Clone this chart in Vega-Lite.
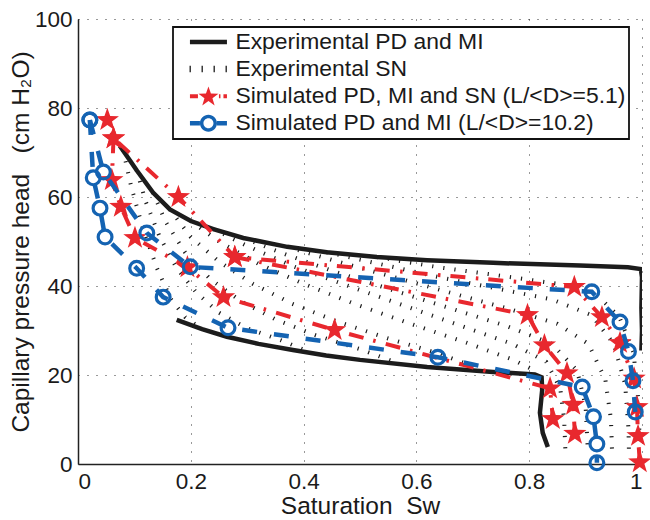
{
  "$schema": "https://vega.github.io/schema/vega-lite/v6.json",
  "autosize": "none",
  "width": 564,
  "height": 445,
  "padding": {"left": 78, "top": 19, "right": 8, "bottom": 56},
  "background": "white",
  "config": {
    "font": "Liberation Sans",
    "view": {"stroke": null},
    "axis": {
      "domainColor": "#222",
      "domainWidth": 1.5,
      "ticks": false,
      "grid": true,
      "gridColor": "#000",
      "gridDash": [1, 8],
      "gridWidth": 1,
      "gridOpacity": 0.8,
      "labelFont": "Liberation Sans",
      "labelFontSize": 22.5,
      "labelColor": "#1a1a1a",
      "titleFont": "Liberation Sans",
      "titleFontSize": 24.5,
      "titleFontWeight": "normal",
      "titleColor": "#1a1a1a"
    }
  },
  "datasets": {
    "exp": [
      {"c": "PD", "x": 0.074, "y": 71.5}, {"c": "PD", "x": 0.09, "y": 68.6}, {"c": "PD", "x": 0.104, "y": 66.0},
      {"c": "PD", "x": 0.133, "y": 61.0}, {"c": "PD", "x": 0.163, "y": 57.2}, {"c": "PD", "x": 0.2, "y": 54.6},
      {"c": "PD", "x": 0.24, "y": 52.8}, {"c": "PD", "x": 0.293, "y": 50.8}, {"c": "PD", "x": 0.371, "y": 48.8},
      {"c": "PD", "x": 0.441, "y": 47.6}, {"c": "PD", "x": 0.53, "y": 46.5}, {"c": "PD", "x": 0.619, "y": 45.8},
      {"c": "PD", "x": 0.736, "y": 45.2}, {"c": "PD", "x": 0.89, "y": 44.6}, {"c": "PD", "x": 0.975, "y": 44.2},
      {"c": "PD", "x": 0.998, "y": 43.8}, {"c": "PD", "x": 1.0, "y": 42.0}, {"c": "PD", "x": 0.999, "y": 35.0},
      {"c": "PD", "x": 1.0, "y": 30.0}, {"c": "PD", "x": 0.999, "y": 25.5},
      {"c": "MI", "x": 0.175, "y": 32.4}, {"c": "MI", "x": 0.22, "y": 30.3}, {"c": "MI", "x": 0.264, "y": 28.6},
      {"c": "MI", "x": 0.32, "y": 27.0}, {"c": "MI", "x": 0.381, "y": 25.6}, {"c": "MI", "x": 0.44, "y": 24.4},
      {"c": "MI", "x": 0.5, "y": 23.4}, {"c": "MI", "x": 0.619, "y": 21.8}, {"c": "MI", "x": 0.736, "y": 20.7},
      {"c": "MI", "x": 0.81, "y": 20.1}, {"c": "MI", "x": 0.822, "y": 19.5}, {"c": "MI", "x": 0.823, "y": 16.6},
      {"c": "MI", "x": 0.819, "y": 11.5}, {"c": "MI", "x": 0.824, "y": 7.0}, {"c": "MI", "x": 0.833, "y": 3.8}
    ],
    "sn": [
      {"c": "K1", "x": 0.08, "y": 70.5}, {"c": "K1", "x": 0.095, "y": 62}, {"c": "K1", "x": 0.115, "y": 53},
      {"c": "K1", "x": 0.14, "y": 44}, {"c": "K1", "x": 0.165, "y": 37}, {"c": "K1", "x": 0.19, "y": 33}, {"c": "K1", "x": 0.22, "y": 30.3},
      {"c": "K2", "x": 0.104, "y": 66}, {"c": "K2", "x": 0.12, "y": 59}, {"c": "K2", "x": 0.145, "y": 51},
      {"c": "K2", "x": 0.175, "y": 44}, {"c": "K2", "x": 0.21, "y": 38.5}, {"c": "K2", "x": 0.25, "y": 34},
      {"c": "K2", "x": 0.3, "y": 30.5}, {"c": "K2", "x": 0.36, "y": 27.8}, {"c": "K2", "x": 0.41, "y": 25.2},
      {"c": "K3", "x": 0.133, "y": 61}, {"c": "K3", "x": 0.155, "y": 54.5}, {"c": "K3", "x": 0.19, "y": 47.5},
      {"c": "K3", "x": 0.235, "y": 41.5}, {"c": "K3", "x": 0.29, "y": 36.5}, {"c": "K3", "x": 0.35, "y": 32.5},
      {"c": "K3", "x": 0.42, "y": 29}, {"c": "K3", "x": 0.5, "y": 25.8}, {"c": "K3", "x": 0.56, "y": 23},
      {"c": "K4", "x": 0.163, "y": 57.2}, {"c": "K4", "x": 0.2, "y": 51}, {"c": "K4", "x": 0.25, "y": 45.5},
      {"c": "K4", "x": 0.31, "y": 40.5}, {"c": "K4", "x": 0.38, "y": 36}, {"c": "K4", "x": 0.46, "y": 32},
      {"c": "K4", "x": 0.55, "y": 28.2}, {"c": "K4", "x": 0.64, "y": 24.8}, {"c": "K4", "x": 0.7, "y": 22},
      {"c": "K5", "x": 0.2, "y": 54.6}, {"c": "K5", "x": 0.25, "y": 50}, {"c": "K5", "x": 0.32, "y": 45},
      {"c": "K5", "x": 0.4, "y": 40.5}, {"c": "K5", "x": 0.49, "y": 36}, {"c": "K5", "x": 0.59, "y": 31.5},
      {"c": "K5", "x": 0.69, "y": 27.2}, {"c": "K5", "x": 0.77, "y": 23.5}, {"c": "K5", "x": 0.81, "y": 21},
      {"c": "K6", "x": 0.24, "y": 52.8}, {"c": "K6", "x": 0.3, "y": 49}, {"c": "K6", "x": 0.38, "y": 44.5},
      {"c": "K6", "x": 0.48, "y": 40}, {"c": "K6", "x": 0.58, "y": 35.5}, {"c": "K6", "x": 0.68, "y": 31},
      {"c": "K6", "x": 0.77, "y": 27}, {"c": "K6", "x": 0.83, "y": 23}, {"c": "K6", "x": 0.855, "y": 17},
      {"c": "K6", "x": 0.862, "y": 10}, {"c": "K6", "x": 0.864, "y": 3.5},
      {"c": "K7", "x": 0.293, "y": 50.8}, {"c": "K7", "x": 0.37, "y": 47}, {"c": "K7", "x": 0.46, "y": 43},
      {"c": "K7", "x": 0.56, "y": 39}, {"c": "K7", "x": 0.66, "y": 35}, {"c": "K7", "x": 0.76, "y": 31},
      {"c": "K7", "x": 0.84, "y": 27}, {"c": "K7", "x": 0.885, "y": 21}, {"c": "K7", "x": 0.9, "y": 13},
      {"c": "K7", "x": 0.904, "y": 3},
      {"c": "K8", "x": 0.371, "y": 48.8}, {"c": "K8", "x": 0.46, "y": 45.5}, {"c": "K8", "x": 0.56, "y": 42},
      {"c": "K8", "x": 0.66, "y": 38.5}, {"c": "K8", "x": 0.76, "y": 35}, {"c": "K8", "x": 0.85, "y": 31.5},
      {"c": "K8", "x": 0.905, "y": 27}, {"c": "K8", "x": 0.935, "y": 19}, {"c": "K8", "x": 0.945, "y": 10},
      {"c": "K8", "x": 0.947, "y": 2.5},
      {"c": "K9", "x": 0.441, "y": 47.6}, {"c": "K9", "x": 0.54, "y": 44.8}, {"c": "K9", "x": 0.64, "y": 42},
      {"c": "K9", "x": 0.74, "y": 39.5}, {"c": "K9", "x": 0.84, "y": 37}, {"c": "K9", "x": 0.91, "y": 33.5},
      {"c": "K9", "x": 0.95, "y": 27}, {"c": "K9", "x": 0.97, "y": 18}, {"c": "K9", "x": 0.976, "y": 8},
      {"c": "K9", "x": 0.977, "y": 2},
      {"c": "K10", "x": 0.53, "y": 46.5}, {"c": "K10", "x": 0.64, "y": 44.2}, {"c": "K10", "x": 0.75, "y": 42.3},
      {"c": "K10", "x": 0.85, "y": 40.5}, {"c": "K10", "x": 0.92, "y": 38}, {"c": "K10", "x": 0.96, "y": 33},
      {"c": "K10", "x": 0.985, "y": 25}, {"c": "K10", "x": 0.993, "y": 15}, {"c": "K10", "x": 0.996, "y": 5}
    ],
    "red": [
      {"c": "R1", "x": 0.996, "y": 0.4}, {"c": "R1", "x": 0.993, "y": 6.3}, {"c": "R1", "x": 0.991, "y": 12.8},
      {"c": "R1", "x": 0.986, "y": 19.2}, {"c": "R1", "x": 0.961, "y": 27.2}, {"c": "R1", "x": 0.929, "y": 33.0},
      {"c": "R1", "x": 0.88, "y": 39.8}, {"c": "R1", "x": 0.278, "y": 46.5}, {"c": "R1", "x": 0.178, "y": 60.0},
      {"c": "R1", "x": 0.063, "y": 73.2}, {"c": "R1", "x": 0.052, "y": 77.3},
      {"c": "R2", "x": 0.063, "y": 73.2}, {"c": "R2", "x": 0.06, "y": 63.8}, {"c": "R2", "x": 0.076, "y": 57.8},
      {"c": "R2", "x": 0.101, "y": 50.8}, {"c": "R2", "x": 0.194, "y": 44.2}, {"c": "R2", "x": 0.258, "y": 37.5},
      {"c": "R2", "x": 0.455, "y": 30.1}, {"c": "R2", "x": 0.837, "y": 17.0}, {"c": "R2", "x": 0.842, "y": 10.1},
      {"c": "R3", "x": 0.278, "y": 46.5}, {"c": "R3", "x": 0.797, "y": 33.5}, {"c": "R3", "x": 0.827, "y": 26.7},
      {"c": "R3", "x": 0.867, "y": 20.4}, {"c": "R3", "x": 0.878, "y": 13.3}, {"c": "R3", "x": 0.881, "y": 6.8}
    ],
    "blue": [
      {"c": "B1", "x": 0.988, "y": 11.7}, {"c": "B1", "x": 0.984, "y": 18.7}, {"c": "B1", "x": 0.976, "y": 25.3},
      {"c": "B1", "x": 0.961, "y": 31.9}, {"c": "B1", "x": 0.911, "y": 38.7}, {"c": "B1", "x": 0.199, "y": 44.3},
      {"c": "B1", "x": 0.122, "y": 51.9}, {"c": "B1", "x": 0.045, "y": 65.6}, {"c": "B1", "x": 0.021, "y": 77.3},
      {"c": "B2", "x": 0.021, "y": 77.3}, {"c": "B2", "x": 0.027, "y": 64.3}, {"c": "B2", "x": 0.039, "y": 57.5},
      {"c": "B2", "x": 0.048, "y": 51.0}, {"c": "B2", "x": 0.104, "y": 44.0}, {"c": "B2", "x": 0.151, "y": 37.5},
      {"c": "B2", "x": 0.266, "y": 30.6}, {"c": "B2", "x": 0.638, "y": 24.0}, {"c": "B2", "x": 0.894, "y": 17.3},
      {"c": "B2", "x": 0.914, "y": 10.6}, {"c": "B2", "x": 0.92, "y": 4.5}, {"c": "B2", "x": 0.92, "y": 0.3}
    ]
  },
  "encoding": {
    "x": {
      "field": "x", "type": "quantitative",
      "scale": {"domain": [0, 1], "nice": false, "zero": false},
      "axis": {"values": [0, 0.2, 0.4, 0.6, 0.8, 1], "format": "~g", "labelPadding": 6,
               "title": "Saturation\u00a0 Sw", "titlePadding": 2}
    },
    "y": {
      "field": "y", "type": "quantitative",
      "scale": {"domain": [0, 100], "nice": false, "zero": false},
      "axis": {"values": [0, 20, 40, 60, 80, 100], "labelPadding": 6,
               "title": "Capillary pressure head\u00a0\u00a0 (cm H\u2082O)", "titlePadding": 1}
    }
  },
  "layer": [
    {
      "data": {"name": "exp"},
      "mark": {"type": "line", "strokeWidth": 4.5, "strokeCap": "butt", "clip": true},
      "encoding": {
        "detail": {"field": "c"},
        "order": {"value": null},
        "color": {
          "datum": "Experimental PD and MI",
          "scale": {
            "domain": ["Experimental PD and MI", "Experimental SN", "Simulated PD, MI and SN (L/<D>=5.1)", "Simulated PD and MI (L/<D>=10.2)"],
            "range": ["#1c1c1c", "#1c1c1c", "#e8282e", "#1463b2"]
          },
          "legend": {
            "title": null,
            "orient": "none",
            "legendX": 95,
            "legendY": 8,
            "direction": "vertical",
            "padding": 3.5,
            "fillColor": "#ffffff",
            "strokeColor": "#111111",
            "labelFont": "Liberation Sans",
            "labelFontSize": 22.9,
            "labelColor": "#1a1a1a",
            "labelLimit": 600,
            "labelExpr": "datum.label + '\u00a0'",
            "symbolSize": 100,
            "symbolOffset": 7,
            "labelOffset": 29,
            "rowPadding": 3.1,
            "encode": {
              "legend": {"update": {"strokeWidth": {"value": 1.8}}},
              "symbols": {
                "update": {
                  "shape": {"signal": "datum.index === 0 ? 'M-1,-0.45L6.4,-0.45L6.4,0.45L-1,0.45Z' : datum.index === 1 ? 'M-1.08,-0.65L-0.82,-0.65L-0.82,0.65L-1.08,0.65ZM1.32,-0.65L1.58,-0.65L1.58,0.65L1.32,0.65ZM3.72,-0.65L3.98,-0.65L3.98,0.65L3.72,0.65ZM6.12,-0.65L6.38,-0.65L6.38,0.65L6.12,0.65Z' : datum.index === 2 ? 'M-1,-0.4L0.6,-0.4L0.6,0.4L-1,0.4ZM4.8,-0.4L5.1,-0.4L5.1,0.4L4.8,0.4ZM5.7,-0.4L6.4,-0.4L6.4,0.4L5.7,0.4ZM2.7,-1.95L3.194,-0.53L4.697,-0.499L3.499,0.41L3.935,1.849L2.7,0.99L1.465,1.849L1.901,0.41L0.703,-0.499L2.206,-0.53Z' : 'M-1,-0.45L1.0,-0.45L1.0,0.45L-1,0.45ZM4.4,-0.45L6.4,-0.45L6.4,0.45L4.4,0.45ZM4.4,0A1.7,1.7 0 1,1 1.0,0A1.7,1.7 0 1,1 4.4,0ZM3.7,0A1.0,1.0 0 1,0 1.7,0A1.0,1.0 0 1,0 3.7,0Z'"},
                  "size": {"value": 100},
                  "fill": {"signal": "datum.index === 2 ? '#e8282e' : datum.index === 3 ? '#1463b2' : '#1c1c1c'"},
                  "stroke": {"value": "transparent"},
                  "strokeWidth": {"value": 0},
                  "strokeDash": {"value": []},
                  "opacity": {"value": 1},
                  "fillOpacity": {"value": 1},
                  "strokeOpacity": {"value": 0}
                }
              }
            }
          }
        }
      }
    },
    {
      "data": {"name": "sn"},
      "mark": {"type": "line", "strokeWidth": 4, "strokeDash": [1.2, 10], "strokeCap": "butt", "clip": true},
      "encoding": {
        "detail": {"field": "c"},
        "order": {"value": null},
        "color": {"datum": "Experimental SN"}
      }
    },
    {
      "data": {"name": "red"},
      "mark": {"type": "line", "strokeWidth": 4, "strokeDash": [15, 10, 2.5, 10.5], "strokeCap": "butt", "clip": true},
      "encoding": {
        "detail": {"field": "c"},
        "order": {"value": null},
        "color": {"datum": "Simulated PD, MI and SN (L/<D>=5.1)"}
      }
    },
    {
      "data": {"name": "red"},
      "mark": {"type": "point", "shape": "M0,-1L0.235,-0.324L0.951,-0.309L0.38,0.124L0.588,0.809L0,0.4L-0.588,0.809L-0.38,0.124L-0.951,-0.309L-0.235,-0.324Z", "filled": true, "size": 600, "opacity": 1, "strokeWidth": 1, "clip": false},
      "encoding": {
        "color": {"datum": "Simulated PD, MI and SN (L/<D>=5.1)"}
      }
    },
    {
      "data": {"name": "blue"},
      "mark": {"type": "line", "strokeWidth": 4.5, "strokeDash": [15, 17], "strokeCap": "butt", "clip": true},
      "encoding": {
        "detail": {"field": "c"},
        "order": {"value": null},
        "color": {"datum": "Simulated PD and MI (L/<D>=10.2)"}
      }
    },
    {
      "data": {"name": "blue"},
      "mark": {"type": "point", "shape": "circle", "filled": false, "size": 190, "strokeWidth": 3.2, "opacity": 1, "clip": false},
      "encoding": {
        "color": {"datum": "Simulated PD and MI (L/<D>=10.2)"}
      }
    }
  ]
}
